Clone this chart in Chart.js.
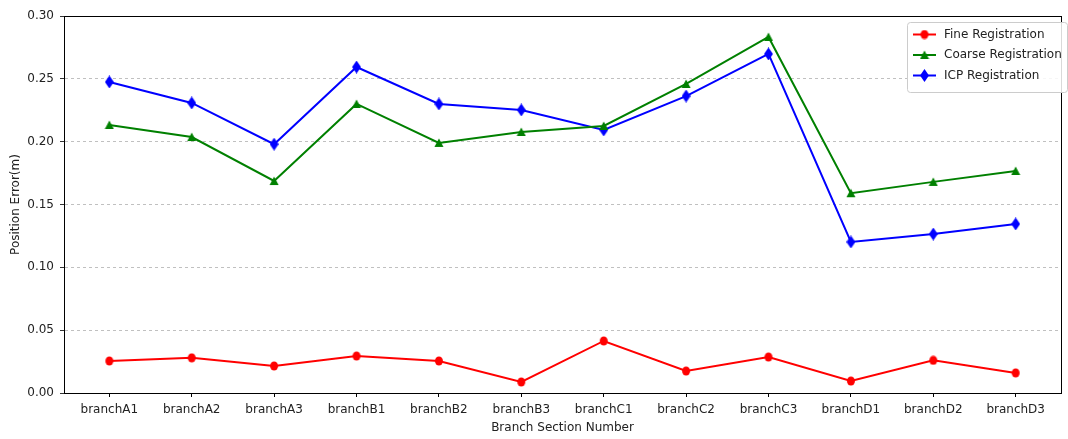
<!DOCTYPE html>
<html>
<head>
<meta charset="utf-8">
<script src="https://cdn.jsdelivr.net/npm/chart.js@4.4.1/dist/chart.umd.min.js"></script>
<style>
  html, body { margin: 0; padding: 0; background: #fff; }
  #wrap { width: 1068px; height: 439px; }
</style>
</head>
<body>
<div id="wrap"><canvas id="c" width="1068" height="439"></canvas></div>
<script>
// Branch sections along the x axis
const categories = ['branchA1', 'branchA2', 'branchA3', 'branchB1', 'branchB2', 'branchB3',
                    'branchC1', 'branchC2', 'branchC3', 'branchD1', 'branchD2', 'branchD3'];

// Position error (m) per registration method
const fineValues   = [0.0255, 0.028, 0.0215, 0.0294, 0.0255, 0.0088, 0.0414, 0.0175, 0.0286, 0.0095, 0.026, 0.016];
const coarseValues = [0.2133, 0.2037, 0.1687, 0.2300, 0.1990, 0.2077, 0.2125, 0.2459, 0.2833, 0.1590, 0.1680, 0.1767];
const icpValues    = [0.2475, 0.2308, 0.1980, 0.2594, 0.2300, 0.2252, 0.2093, 0.2363, 0.2698, 0.1202, 0.1265, 0.1345];

const yTicks = [0, 0.05, 0.10, 0.15, 0.20, 0.25, 0.30];

const FONT = 'DejaVu Sans';

// Marker images: circle, triangle, thin diamond
function makeMarker(kind, color) {
  const w = kind === 'diamond' ? 9 : 10;
  const h = kind === 'diamond' ? 13 : 10;
  const cv = document.createElement('canvas');
  cv.width = w; cv.height = h;
  const g = cv.getContext('2d');
  g.fillStyle = color;
  g.beginPath();
  if (kind === 'circle') {
    g.ellipse(w / 2, h / 2, 4, 4.5, 0, 0, Math.PI * 2);
  } else if (kind === 'triangle') {
    g.moveTo(w / 2, 0.5);
    g.lineTo(w - 0.5, h - 1);
    g.lineTo(0.5, h - 1);
    g.closePath();
  } else {
    g.moveTo(w / 2, 0);
    g.lineTo(w, h / 2);
    g.lineTo(w / 2, h);
    g.lineTo(0, h / 2);
    g.closePath();
  }
  g.fill();
  return cv;
}

const series = [
  { label: 'Fine Registration',   values: fineValues,   color: '#ff0000', marker: makeMarker('circle', '#ff0000') },
  { label: 'Coarse Registration', values: coarseValues, color: '#008000', marker: makeMarker('triangle', '#008000') },
  { label: 'ICP Registration',    values: icpValues,    color: '#0000ff', marker: makeMarker('diamond', '#0000ff') }
];

// Full black frame around the plot area
const framePlugin = {
  id: 'frame',
  afterDatasetsDraw(chart) {
    const { ctx, chartArea: a } = chart;
    ctx.save();
    ctx.strokeStyle = '#000';
    ctx.lineWidth = 1;
    ctx.strokeRect(Math.round(a.left) + 0.5, Math.round(a.top) + 0.5,
                   Math.round(a.right - a.left), Math.round(a.bottom - a.top));
    ctx.restore();
  }
};

// Legend box with a short line and marker per entry
const legendPlugin = {
  id: 'lineLegend',
  afterDraw(chart) {
    const { ctx, chartArea: a } = chart;
    const x0 = a.right - 154, y0 = a.top + 6, w = 160, h = 70;
    ctx.save();
    ctx.fillStyle = 'rgba(255,255,255,0.85)';
    ctx.strokeStyle = '#cccccc';
    ctx.lineWidth = 1;
    ctx.beginPath();
    ctx.roundRect(x0 + 0.5, y0 + 0.5, w, h, 3);
    ctx.fill();
    ctx.stroke();
    ctx.font = '12px "' + FONT + '"';
    ctx.textBaseline = 'middle';
    series.forEach((s, i) => {
      const y = y0 + 12.5 + i * 20.5;
      ctx.strokeStyle = s.color;
      ctx.lineWidth = 2;
      ctx.beginPath();
      ctx.moveTo(x0 + 6, y);
      ctx.lineTo(x0 + 29, y);
      ctx.stroke();
      ctx.drawImage(s.marker, x0 + 17.5 - s.marker.width / 2, y - s.marker.height / 2);
      ctx.fillStyle = '#222';
      ctx.fillText(s.label, x0 + 37, y);
    });
    ctx.restore();
  }
};

new Chart(document.getElementById('c'), {
  type: 'line',
  data: {
    datasets: series.map(s => ({
      label: s.label,
      data: s.values.map((v, i) => ({ x: i, y: v })),
      borderColor: s.color,
      backgroundColor: s.color,
      borderWidth: 2,
      tension: 0,
      pointStyle: s.marker,
      pointRadius: 5,
      pointHoverRadius: 5
    }))
  },
  options: {
    responsive: false,
    animation: false,
    events: [],
    layout: { padding: { left: 0, right: 5, top: 16, bottom: 0 } },
    plugins: {
      legend: { display: false },
      tooltip: { enabled: false }
    },
    scales: {
      x: {
        type: 'linear',
        min: -0.55,
        max: categories.length - 1 + 0.55,
        afterBuildTicks(scale) {
          scale.ticks = categories.map((c, i) => ({ value: i }));
        },
        afterFit(scale) { scale.height = 46; },
        ticks: {
          autoSkip: false,
          maxRotation: 0,
          padding: 6,
          color: '#222',
          font: { family: FONT, size: 12 },
          callback: (v) => categories[v]
        },
        grid: { drawOnChartArea: false, tickLength: 4, tickColor: '#000', color: '#000' },
        border: { display: true, color: '#000' },
        title: {
          display: true,
          text: 'Branch Section Number',
          color: '#222',
          font: { family: FONT, size: 12 },
          padding: { top: 0, bottom: 4 }
        }
      },
      y: {
        min: 0,
        max: 0.3,
        afterBuildTicks(scale) {
          scale.ticks = yTicks.map(v => ({ value: v }));
        },
        afterFit(scale) { scale.width = 64; },
        ticks: {
          padding: 6,
          color: '#222',
          font: { family: FONT, size: 12 },
          callback: (v) => v.toFixed(2)
        },
        grid: {
          tickLength: 4,
          tickColor: '#000',
          lineWidth: 0.8,
          color: (ctx) => (ctx.tick && (ctx.tick.value === 0 || Math.abs(ctx.tick.value - 0.3) < 1e-9)) ? 'rgba(0,0,0,0)' : '#b0b0b0'
        },
        border: { display: true, color: '#000', dash: [3, 3] },
        title: {
          display: true,
          text: 'Position Error(m)',
          color: '#222',
          font: { family: FONT, size: 12 },
          padding: { top: 9, bottom: 2 }
        }
      }
    }
  },
  plugins: [framePlugin, legendPlugin]
});
</script>
</body>
</html>
